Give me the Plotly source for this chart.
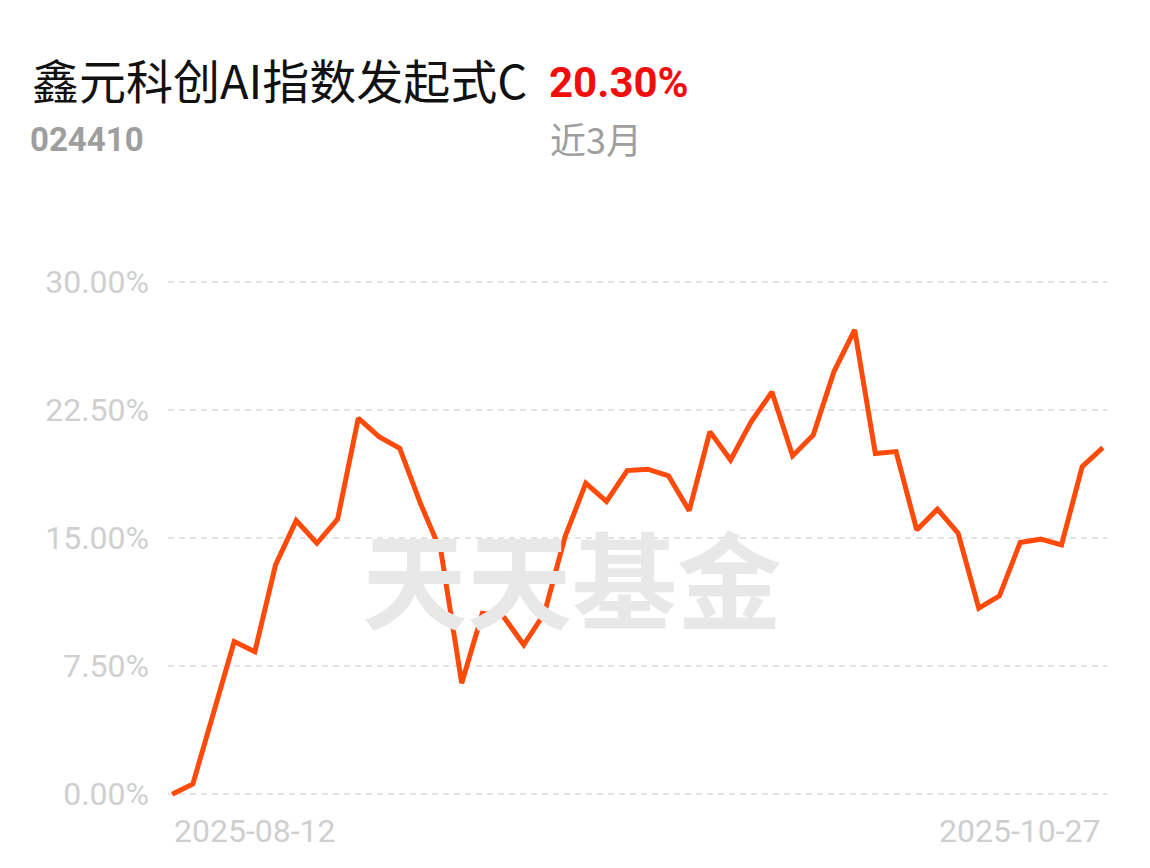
import plotly.graph_objects as go

# fund info
fund_name = "鑫元科创AI指数发起式C"
fund_code = "024410"
period_return = "20.30%"
period_label = "近3月"
watermark = "天天基金"

# cumulative return (%) per trading day
returns = [
    0.00, 0.59, 4.76, 8.94, 8.35, 13.43, 16.03, 14.70, 16.11, 22.03,
    20.95, 20.27, 17.05, 14.21, 6.50, 10.60, 10.44, 8.75, 10.60, 15.09,
    18.22, 17.15, 18.96, 19.04, 18.65, 16.61, 21.24, 19.58, 21.83, 23.56,
    19.82, 21.05, 24.76, 27.20, 19.96, 20.07, 15.48, 16.70, 15.29, 10.90,
    11.62, 14.74, 14.94, 14.60, 19.19, 20.30,
]
days = list(range(len(returns)))
x_labels = ["2025-08-12", "2025-10-27"]
y_ticks = [0, 7.5, 15, 22.5, 30]
y_tick_labels = ["0.00%", "7.50%", "15.00%", "22.50%", "30.00%"]

LINE = "#FF4A0A"
GREY_TXT = "#cfcfcf"

fig = go.Figure()
fig.add_trace(go.Scatter(
    x=days, y=returns, mode="lines",
    line=dict(color=LINE, width=5),
    hoverinfo="skip",
))

# first / last date under the axis, aligned to the ends
fig.add_annotation(x=days[0], y=-0.058, xref="x", yref="paper", text=x_labels[0],
                   xanchor="left", yanchor="middle", showarrow=False,
                   font=dict(family="Roboto", size=32, color=GREY_TXT))
fig.add_annotation(x=days[-1], y=-0.058, xref="x", yref="paper", text=x_labels[1],
                   xanchor="right", yanchor="middle", showarrow=False,
                   font=dict(family="Roboto", size=32, color=GREY_TXT))

# header
fig.add_annotation(x=-0.147, y=1.378, xref="paper", yref="paper", text=fund_name,
                   xanchor="left", yanchor="middle", showarrow=False,
                   font=dict(family="Noto Sans CJK SC", size=47, color="#111111"))
fig.add_annotation(x=0.404, y=1.372, xref="paper", yref="paper", text="<b>" + period_return + "</b>",
                   xanchor="left", yanchor="middle", showarrow=False,
                   font=dict(family="Roboto", size=42, color="#F20D0D"))
fig.add_annotation(x=-0.149, y=1.262, xref="paper", yref="paper", text="<b>" + fund_code + "</b>",
                   xanchor="left", yanchor="middle", showarrow=False,
                   font=dict(family="Roboto", size=33, color="#9e9e9e"))
fig.add_annotation(x=0.405, y=1.265, xref="paper", yref="paper", text=period_label,
                   xanchor="left", yanchor="middle", showarrow=False,
                   font=dict(family="Noto Sans CJK SC", size=36, color="#9e9e9e"))

# watermark
fig.add_annotation(x=0.43, y=0.432, xref="paper", yref="paper", text="<b>" + watermark + "</b>",
                   xanchor="center", yanchor="middle", showarrow=False,
                   font=dict(family="Noto Sans CJK SC", size=105, color="#e8e8e8"))

fig.update_layout(
    width=1142, height=860,
    margin=dict(l=160, r=43, t=269, b=67),
    paper_bgcolor="white", plot_bgcolor="white",
    showlegend=False,
    xaxis=dict(range=[-0.2, len(days) - 0.8], showgrid=False, zeroline=False,
               showticklabels=False, showline=False),
    yaxis=dict(range=[-0.4, 30.3], tickvals=y_ticks, ticktext=y_tick_labels,
               showgrid=True, gridcolor="#e3e3e3", gridwidth=2, griddash="6px,5px",
               zeroline=False, showline=False, ticks="", ticklabelstandoff=18,
               tickfont=dict(family="Roboto", size=32, color=GREY_TXT)),
)

fig.write_html("out.html")
